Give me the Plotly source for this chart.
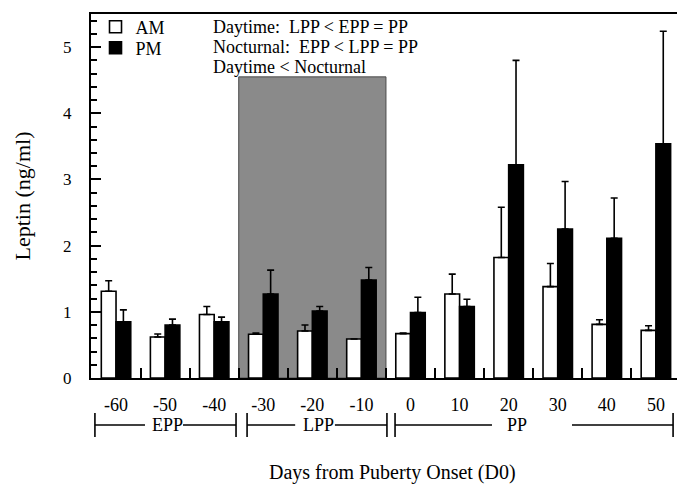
import plotly.graph_objects as go

# ---------------- data ----------------
days = [-60, -50, -40, -30, -20, -10, 0, 10, 20, 30, 40, 50]
day_labels = [str(d) for d in days]
am_values = [1.31, 0.62, 0.96, 0.66, 0.71, 0.59, 0.67, 1.27, 1.82, 1.38, 0.81, 0.72]
am_errors = [0.16, 0.045, 0.12, 0.02, 0.09, 0.0, 0.01, 0.30, 0.76, 0.35, 0.07, 0.07]
pm_values = [0.85, 0.80, 0.85, 1.27, 1.01, 1.48, 0.99, 1.08, 3.22, 2.25, 2.11, 3.54]
pm_errors = [0.18, 0.09, 0.07, 0.36, 0.07, 0.19, 0.23, 0.11, 1.58, 0.72, 0.61, 1.70]
group_bounds = [-55, -45, -35, -25, -15, -5, 5, 15, 25, 35, 45]
y_major = [0, 1, 2, 3, 4, 5]

period_names = ["EPP", "LPP", "PP"]
period_start = [-64.3, -33.3, -3.15]
period_end = [-35.55, -4.8, 53.5]
period_text_x = [-49.5, -18.8, 21.6]
period_line_left_end = [-54.1, -23.5, 16.6]
period_line_right_start = [-46.35, -15.4, 32.9]

lpp_shade = (-35, -5, 4.55)

stats_lines = ["Daytime:\u00a0 LPP < EPP = PP",
               "Nocturnal:\u00a0 EPP < LPP = PP",
               "Daytime < Nocturnal"]
stats_y = [5.304, 4.998, 4.693]

x_range = [-65.1, 54.3]
y_range = [0, 5.5]
FONT = "Liberation Serif"

fig = go.Figure()
fig.add_trace(go.Bar(
    x=days, y=am_values, name="AM", legend="legend",
    marker=dict(color="white", line=dict(color="black", width=1.6)),
    error_y=dict(type="data", array=am_errors, arrayminus=[0] * len(days),
                 symmetric=False, color="black", thickness=1.6, width=3.5),
))
fig.add_trace(go.Bar(
    x=days, y=pm_values, name="PM", legend="legend2",
    marker=dict(color="black", line=dict(color="black", width=1.6)),
    error_y=dict(type="data", array=pm_errors, arrayminus=[0] * len(days),
                 symmetric=False, color="black", thickness=1.6, width=3.5),
))

shapes = []
annotations = []

# shaded LPP region
shapes.append(dict(type="rect", xref="x", yref="y", x0=lpp_shade[0], x1=lpp_shade[1],
                   y0=0, y1=lpp_shade[2], fillcolor="#8a8a8a",
                   line=dict(color="#4a4a4a", width=1), layer="below"))


def to_paper(d):
    return (d - x_range[0]) / (x_range[1] - x_range[0])


plot_h = 364


def py_to_paper(px_below):
    return -px_below / plot_h


y_line = py_to_paper(47)
y_bar_top = py_to_paper(35)
y_bar_bot = py_to_paper(59)
for i, name in enumerate(period_names):
    for xs in (period_start[i], period_end[i]):
        shapes.append(dict(type="line", xref="paper", yref="paper",
                           x0=to_paper(xs), x1=to_paper(xs), y0=y_bar_top, y1=y_bar_bot,
                           line=dict(color="black", width=1.6)))
    shapes.append(dict(type="line", xref="paper", yref="paper",
                       x0=to_paper(period_start[i]), x1=to_paper(period_line_left_end[i]),
                       y0=y_line, y1=y_line, line=dict(color="black", width=1.3)))
    shapes.append(dict(type="line", xref="paper", yref="paper",
                       x0=to_paper(period_line_right_start[i]), x1=to_paper(period_end[i]),
                       y0=y_line, y1=y_line, line=dict(color="black", width=1.3)))
    annotations.append(dict(xref="paper", yref="paper", x=to_paper(period_text_x[i]),
                            y=py_to_paper(47), text=name, showarrow=False,
                            xanchor="center", yanchor="middle", borderpad=0,
                            font=dict(family=FONT, size=18, color="black")))

for txt, yy in zip(stats_lines, stats_y):
    annotations.append(dict(xref="x", yref="y", x=-40.4, y=yy, text=txt, showarrow=False,
                            xanchor="left", yanchor="middle", borderpad=0,
                            font=dict(family=FONT, size=18, color="black")))

annotations.append(dict(xref="paper", yref="paper", x=(392 - 91) / 586, y=py_to_paper(94),
                        text="Days from Puberty Onset (D0)", showarrow=False,
                        xanchor="center", yanchor="middle",
                        font=dict(family=FONT, size=20, color="black")))

legend_common = dict(xanchor="left", yanchor="middle", bgcolor="rgba(0,0,0,0)",
                     font=dict(family=FONT, size=18, color="black"))

fig.update_layout(
    width=677, height=484,
    margin=dict(l=91, r=0, t=14, b=106),
    paper_bgcolor="white", plot_bgcolor="white",
    barmode="group", bargap=0.4, bargroupgap=0,
    font=dict(family=FONT, size=18, color="black"),
    showlegend=True,
    legend=dict(x=0.0077, y=(378 - 27) / 364, **legend_common),
    legend2=dict(x=0.0077, y=(378 - 48) / 364, **legend_common),
    shapes=shapes, annotations=annotations,
)
fig.update_xaxes(
    range=x_range, showgrid=False, zeroline=False,
    showline=True, linecolor="black", linewidth=2, mirror=True,
    tickmode="array", tickvals=days, ticktext=day_labels, ticks="",
    ticklabelstandoff=9, tickfont=dict(family=FONT, size=18),
    minor=dict(tickmode="array", tickvals=group_bounds, ticks="inside",
               ticklen=10, tickwidth=2, tickcolor="black", showgrid=False),
)
fig.update_yaxes(
    range=y_range, showgrid=False, zeroline=False,
    showline=True, linecolor="black", linewidth=2,
    tickmode="array", tickvals=y_major, ticks="inside",
    ticklen=10, tickwidth=2, tickcolor="black",
    ticklabelstandoff=14, tickfont=dict(family=FONT, size=17),
    minor=dict(tickmode="linear", tick0=0, dtick=0.2, ticks="inside",
               ticklen=6, tickwidth=2, tickcolor="black", showgrid=False),
    title=dict(text="Leptin (ng/ml)", font=dict(family=FONT, size=22), standoff=26),
)

fig.write_html("out.html")
